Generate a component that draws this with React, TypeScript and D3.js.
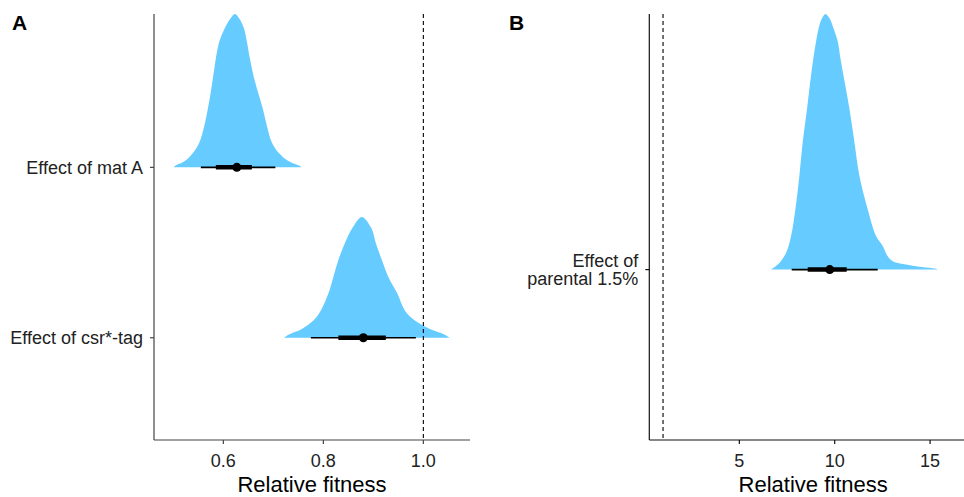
import React from "react";
import * as d3 from "d3";

// panel A: posterior of relative fitness, one ridge per effect
const catsA = ["Effect of csr*-tag", "Effect of mat A"];
const matAx = [0.501, 0.503, 0.523, 0.54, 0.552, 0.562, 0.569, 0.575, 0.58, 0.585, 0.592, 0.603, 0.615, 0.623, 0.631, 0.641, 0.647, 0.653, 0.66, 0.669, 0.679, 0.687, 0.697, 0.71, 0.73, 0.753, 0.757];
const matAd = [0, 0.009, 0.041, 0.097, 0.162, 0.272, 0.382, 0.493, 0.601, 0.711, 0.82, 0.908, 0.974, 1.0, 0.974, 0.908, 0.82, 0.711, 0.601, 0.493, 0.382, 0.272, 0.162, 0.097, 0.041, 0.009, 0];
const csrX = [0.721, 0.73, 0.757, 0.78, 0.795, 0.81, 0.82, 0.83, 0.843, 0.858, 0.877, 0.896, 0.905, 0.917, 0.93, 0.948, 0.963, 0.983, 1.013, 1.043, 1.053];
const csrD = [0, 0.02, 0.057, 0.112, 0.178, 0.288, 0.397, 0.507, 0.616, 0.715, 0.788, 0.715, 0.616, 0.507, 0.397, 0.288, 0.178, 0.112, 0.057, 0.02, 0];
// [thin lo, thick lo, median, thick hi, thin hi]
const csrInt = [0.775, 0.83, 0.88, 0.925, 0.985];
const matAInt = [0.555, 0.585, 0.627, 0.657, 0.704];
const ticksA = [0.6, 0.8, 1.0];

// panel B
const catsB = ["Effect of\nparental 1.5%"];
const parX = [6.65, 6.717, 7.1, 7.452, 7.714, 7.939, 8.149, 8.322, 8.553, 8.762, 8.883, 9.025, 9.161, 9.34, 9.512, 9.72, 9.932, 10.157, 10.299, 10.456, 10.771, 11.033, 11.295, 11.73, 12.171, 12.517, 12.779, 13.041, 13.744, 14.441, 15.317, 15.4];
const parD = [0, 0.003, 0.026, 0.066, 0.131, 0.236, 0.367, 0.499, 0.63, 0.761, 0.827, 0.893, 0.945, 0.984, 1.0, 0.984, 0.945, 0.893, 0.827, 0.761, 0.63, 0.499, 0.367, 0.236, 0.131, 0.092, 0.052, 0.033, 0.02, 0.011, 0.003, 0];
const parInt = [7.745, 8.584, 9.74, 10.629, 12.255];
const ticksB = [5, 10, 15];

const FILL = "#66CCFF";
const FONT = "'Liberation Sans', Arial, sans-serif";

type Ridge = { xs: number[]; ds: number[]; iv: number[] };

function Panel({ tag, left, right, xDomain, yDomain, cats, ridges, ticks, fmt, axisColor, tagX }: any) {
  const top = 14, bottom = 440;
  const x = d3.scaleLinear().domain(xDomain).range([left, right]);
  const y = d3.scaleLinear().domain(yDomain).range([bottom, top]);
  const scale = 0.9;

  return (
    <g>
      <text x={tagX} y={29.5} fontFamily={FONT} fontWeight="bold" fontSize={21} fill="#000">{tag}</text>
      {ridges.map((r: Ridge, i: number) => {
        const pts = r.xs.map((v, j) => [v, r.ds[j]]);
        const area = d3.area<number[]>()
          .x((p) => x(p[0]))
          .y0(y(i + 1))
          .y1((p) => y(i + 1 + p[1] * scale))
          .curve(d3.curveCatmullRom.alpha(0.5));
        const yc = y(i + 1);
        return (
          <g key={i}>
            <path d={area(pts) || ""} fill={FILL} />
            <line x1={x(r.iv[0])} x2={x(r.iv[4])} y1={yc} y2={yc} stroke="#000" strokeWidth={1.6} />
            <line x1={x(r.iv[1])} x2={x(r.iv[3])} y1={yc} y2={yc} stroke="#000" strokeWidth={4.5} />
            <circle cx={x(r.iv[2])} cy={yc} r={4.5} fill="#000" />
          </g>
        );
      })}
      <line x1={x(1)} x2={x(1)} y1={top} y2={bottom} stroke="#000" strokeWidth={1.1} strokeDasharray="4,3" />
      <line x1={left} x2={left} y1={top} y2={bottom} stroke={axisColor} strokeWidth={1.2} />
      <line x1={left} x2={right} y1={bottom} y2={bottom} stroke={axisColor} strokeWidth={1.2} />
      {ticks.map((t: number) => (
        <g key={t}>
          <line x1={x(t)} x2={x(t)} y1={bottom} y2={bottom + 4} stroke={axisColor} strokeWidth={1.2} />
          <text x={x(t)} y={466.5} textAnchor="middle" fontFamily={FONT} fontSize={18} fill="#222">{fmt(t)}</text>
        </g>
      ))}
      {cats.map((c: string, i: number) => {
        const yc = y(i + 1);
        const lines = c.split("\n");
        const lh = 18.5;
        const y0 = yc + 6.5 - ((lines.length - 1) * lh) / 2;
        return (
          <g key={c}>
            <line x1={left - 4} x2={left} y1={yc} y2={yc} stroke={axisColor} strokeWidth={1.2} />
            {lines.map((s, k) => (
              <text key={k} x={left - 11} y={y0 + k * lh} textAnchor="end" fontFamily={FONT} fontSize={18} fill="#222">{s}</text>
            ))}
          </g>
        );
      })}
      <text x={(left + right) / 2} y={492} textAnchor="middle" fontFamily={FONT} fontSize={22} fill="#000">Relative fitness</text>
    </g>
  );
}

export default function App() {
  const ridgesA: Ridge[] = [
    { xs: csrX, ds: csrD, iv: csrInt },
    { xs: matAx, ds: matAd, iv: matAInt },
  ];
  const ridgesB: Ridge[] = [{ xs: parX, ds: parD, iv: parInt }];
  return (
    <svg width={964} height={497} style={{ position: "absolute", left: 0, top: 0, background: "#fff" }}>
      <rect width={964} height={497} fill="#fff" />
      <Panel tag="A" tagX={12} left={154} right={470} xDomain={[0.4613, 1.0933]} yDomain={[0.4, 2.9]}
        cats={catsA} ridges={ridgesA} ticks={ticksA} fmt={d3.format(".1f")} axisColor="#444" />
      <Panel tag="B" tagX={509} left={649.3} right={977} xDomain={[0.28, 17.46]} yDomain={[0.4, 1.9]}
        cats={catsB} ridges={ridgesB} ticks={ticksB} fmt={d3.format("d")} axisColor="#111" />
    </svg>
  );
}
